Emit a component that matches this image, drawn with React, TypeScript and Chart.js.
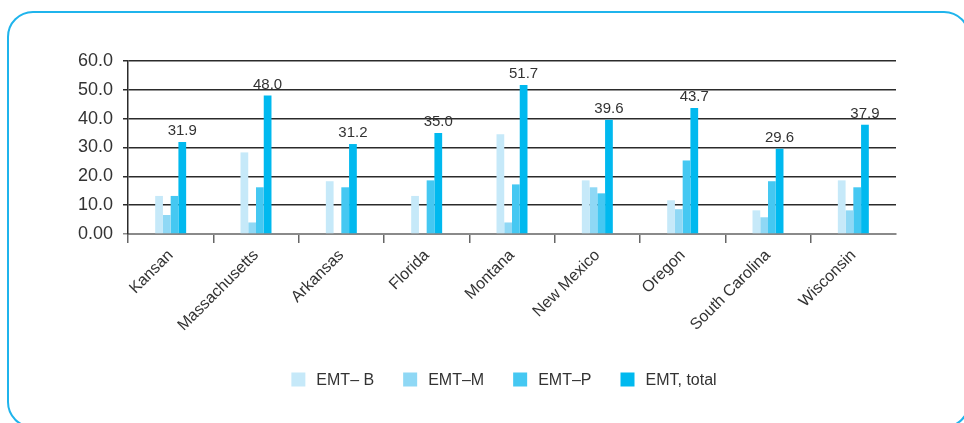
import React, { useEffect, useRef } from "react";
import { Chart, registerables } from "chart.js";

Chart.register(...registerables);

const categories = [
  "Kansan",
  "Massachusetts",
  "Arkansas",
  "Florida",
  "Montana",
  "New Mexico",
  "Oregon",
  "South Carolina",
  "Wisconsin",
];
const emtB = [13.2, 28.3, 18.3, 13.2, 34.6, 18.6, 11.7, 8.2, 18.6];
const emtM = [6.6, 4.0, null, null, 4.0, 16.2, 8.6, 5.8, 8.2];
const emtP = [13.2, 16.2, 16.2, 18.6, 17.2, 14.1, 25.5, 18.3, 16.2];
const emtTotal = [31.9, 48.0, 31.2, 35.0, 51.7, 39.6, 43.7, 29.6, 37.9];
const seriesNames = ["EMT\u2013 B", "EMT\u2013M", "EMT\u2013P", "EMT, total"];
const yTickLabels = ["0.00", "10.0", "20.0", "30.0", "40.0", "50.0", "60.0"];

const COLORS = ["#c6e9f9", "#8fd8f5", "#45c8f2", "#00b9ef"];
const FONT = "'Liberation Sans', Arial, sans-serif";
const TEXT = "#333333";

// value labels above the total bars
const totalLabels = {
  id: "totalLabels",
  afterDatasetsDraw(chart: any) {
    const ctx = chart.ctx;
    const meta = chart.getDatasetMeta(3);
    const data = chart.data.datasets[3].data;
    ctx.save();
    ctx.font = `15px ${FONT}`;
    ctx.fillStyle = TEXT;
    ctx.textAlign = "center";
    ctx.textBaseline = "alphabetic";
    meta.data.forEach((el: any, i: number) => {
      ctx.fillText(Number(data[i]).toFixed(1), el.x, el.y - 7);
    });
    ctx.restore();
  },
};

// single-row legend under the axis labels
const bottomLegend = {
  id: "bottomLegend",
  afterDraw(chart: any) {
    const ctx = chart.ctx;
    const box = 14;
    const gap = 11;
    const spacing = 29;
    const centerX = 504;
    const centerY = 379.5;
    ctx.save();
    ctx.font = `16px ${FONT}`;
    const items = chart.data.datasets.map((ds: any) => ({
      label: ds.label,
      color: ds.backgroundColor,
      w: ctx.measureText(ds.label).width,
    }));
    const total =
      items.reduce((s: number, it: any) => s + box + gap + it.w, 0) +
      spacing * (items.length - 1);
    let x = centerX - total / 2;
    ctx.textBaseline = "middle";
    ctx.textAlign = "left";
    items.forEach((it: any) => {
      ctx.fillStyle = it.color;
      ctx.fillRect(x, centerY - box / 2, box, box);
      ctx.fillStyle = TEXT;
      ctx.fillText(it.label, x + box + gap, centerY + 1);
      x += box + gap + it.w + spacing;
    });
    ctx.restore();
  },
};

export default function App() {
  const canvasRef = useRef<HTMLCanvasElement | null>(null);

  useEffect(() => {
    if (!canvasRef.current) return;
    const series = [emtB, emtM, emtP, emtTotal];
    const chart = new Chart(canvasRef.current, {
      type: "bar",
      data: {
        labels: categories,
        datasets: series.map((d, i) => ({
          label: seriesNames[i],
          data: d,
          backgroundColor: COLORS[i],
          borderWidth: 0,
          categoryPercentage: 0.363,
          barPercentage: 1.0,
        })),
      },
      options: {
        responsive: false,
        animation: false,
        layout: { padding: { top: 61, right: 68, bottom: 0, left: 0 } },
        plugins: {
          legend: { display: false },
          tooltip: { enabled: false },
          title: { display: false },
        },
        scales: {
          x: {
            afterFit(scale: any) {
              scale.height = 189;
            },
            grid: {
              offset: true,
              drawOnChartArea: false,
              drawTicks: true,
              tickLength: 9,
              lineWidth: 1.5,
              // the closing boundary at the right end carries no tick mark
              color: (c: any) => (c.type === "tick" ? "#666666" : "rgba(0,0,0,0)"),
            },
            border: { display: true, color: "#8a8a8a", width: 2 },
            ticks: {
              autoSkip: false,
              maxRotation: 45,
              minRotation: 45,
              padding: 3,
              color: TEXT,
              font: { family: FONT, size: 16 },
            },
          },
          y: {
            min: 0,
            max: 60,
            afterFit(scale: any) {
              scale.width = 128;
            },
            grid: {
              drawTicks: true,
              tickLength: 5,
              lineWidth: 1.5,
              color: (c: any) => (c.tick && c.tick.value === 0 ? "#8a8a8a" : "#2b2b2b"),
            },
            border: { display: true, color: "#2b2b2b", width: 1.5 },
            ticks: {
              stepSize: 10,
              padding: 10,
              color: TEXT,
              font: { family: FONT, size: 18 },
              callback: (_v: any, i: number) => yTickLabels[i],
            },
          },
        },
      },
      plugins: [totalLabels, bottomLegend],
    });
    return () => chart.destroy();
  }, []);

  return (
    <div
      style={{
        position: "fixed",
        left: 0,
        top: 0,
        width: 964,
        height: 423,
        overflow: "hidden",
        background: "#ffffff",
      }}
    >
      <div
        style={{
          position: "absolute",
          left: 7,
          top: 11,
          width: 963,
          height: 417,
          border: "2px solid #1fb4ec",
          borderRadius: 26,
          boxSizing: "border-box",
        }}
      />
      <canvas
        ref={canvasRef}
        width={964}
        height={423}
        style={{ position: "absolute", left: 0, top: 0, width: 964, height: 423 }}
      />
    </div>
  );
}
